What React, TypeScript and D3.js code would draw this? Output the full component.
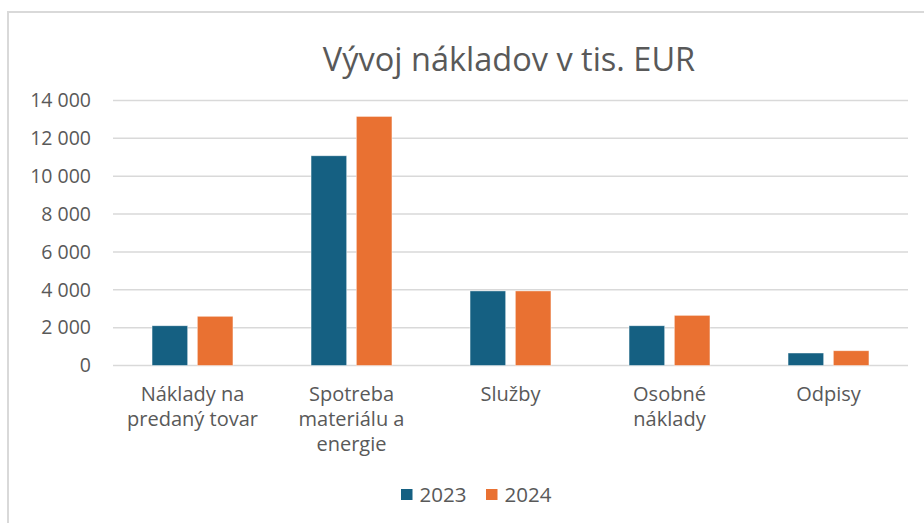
import React from "react";
import * as d3 from "d3";

const categories: string[][] = [
  ["Náklady na", "predaný tovar"],
  ["Spotreba", "materiálu a", "energie"],
  ["Služby"],
  ["Osobné", "náklady"],
  ["Odpisy"],
];
const seriesNames = ["2023", "2024"];
const values2023 = [2100, 11080, 3940, 2100, 660];
const values2024 = [2600, 13160, 3940, 2650, 780];
const yTicks = [0, 2000, 4000, 6000, 8000, 10000, 12000, 14000];
const title = "Vývoj nákladov v tis. EUR";

const W = 924;
const H = 523;
const COLORS = ["#156082", "#E97132"];
const TEXT = "#595959";
const GRID = "#D9D9D9";
const FONT = "'Open Sans', 'Liberation Sans', Arial, sans-serif";

export default function App() {
  const keys = categories.map((c) => c.join(" "));
  const x0 = d3.scaleBand<string>().domain(keys).range([113, 908]).padding(0);
  const band = x0.bandwidth();
  const barW = band / 4.46;
  const cluster = barW * 2.27;
  const x1 = d3
    .scaleBand<string>()
    .domain(seriesNames)
    .range([0, cluster])
    .paddingInner(0.27 / 1.27)
    .paddingOuter(0);
  const y = d3.scaleLinear().domain([0, 14000]).range([365.5, 100.5]);
  const fmt = (v: number) => d3.format(",")(v).replace(/,/g, " ");
  const series = [values2023, values2024];

  return (
    <div style={{ position: "fixed", left: 0, top: 0 }}>
      <svg width={W} height={H} style={{ display: "block", background: "#fff" }}>
        <rect x={0} y={0} width={W} height={H} fill="#fff" />
        <rect x={8} y={12} width={W + 10} height={H + 10} fill="none" stroke={GRID} strokeWidth={2} />
        <text
          x={509}
          y={71}
          textAnchor="middle"
          fontFamily={FONT}
          fontSize={32.5}
          fill={TEXT}
        >
          {title}
        </text>
        {yTicks.map((t) => (
          <g key={t}>
            <line x1={113} x2={908} y1={y(t)} y2={y(t)} stroke={GRID} strokeWidth={1.5} />
            <text
              x={91}
              y={y(t)}
              dy="0.35em"
              textAnchor="end"
              fontFamily={FONT}
              fontSize={19.5}
              fill={TEXT}
            >
              {fmt(t)}
            </text>
          </g>
        ))}
        {keys.map((k, i) => {
          const gx = (x0(k) as number) + (band - cluster) / 2;
          return (
            <g key={k}>
              {seriesNames.map((s, j) => {
                const v = series[j][i];
                return (
                  <rect
                    key={s}
                    x={gx + (x1(s) as number)}
                    y={y(v)}
                    width={x1.bandwidth()}
                    height={y(0) - y(v)}
                    fill={COLORS[j]}
                    stroke="#ffffff"
                    strokeOpacity={0.6}
                    strokeWidth={0.75}
                  />
                );
              })}
              <text
                textAnchor="middle"
                fontFamily={FONT}
                fontSize={20}
                fill={TEXT}
              >
                {categories[i].map((line, li) => (
                  <tspan key={li} x={(x0(k) as number) + band / 2} y={400.7 + li * 25}>
                    {line}
                  </tspan>
                ))}
              </text>
            </g>
          );
        })}
        {seriesNames.map((s, j) => {
          const lx = [401, 486][j];
          return (
            <g key={s}>
              <rect x={lx} y={489} width={11.5} height={11} fill={COLORS[j]} />
              <text
                x={lx + 18.5}
                y={494.5}
                dy="0.35em"
                fontFamily={FONT}
                fontSize={20.5}
                fill={TEXT}
              >
                {s}
              </text>
            </g>
          );
        })}
      </svg>
    </div>
  );
}
